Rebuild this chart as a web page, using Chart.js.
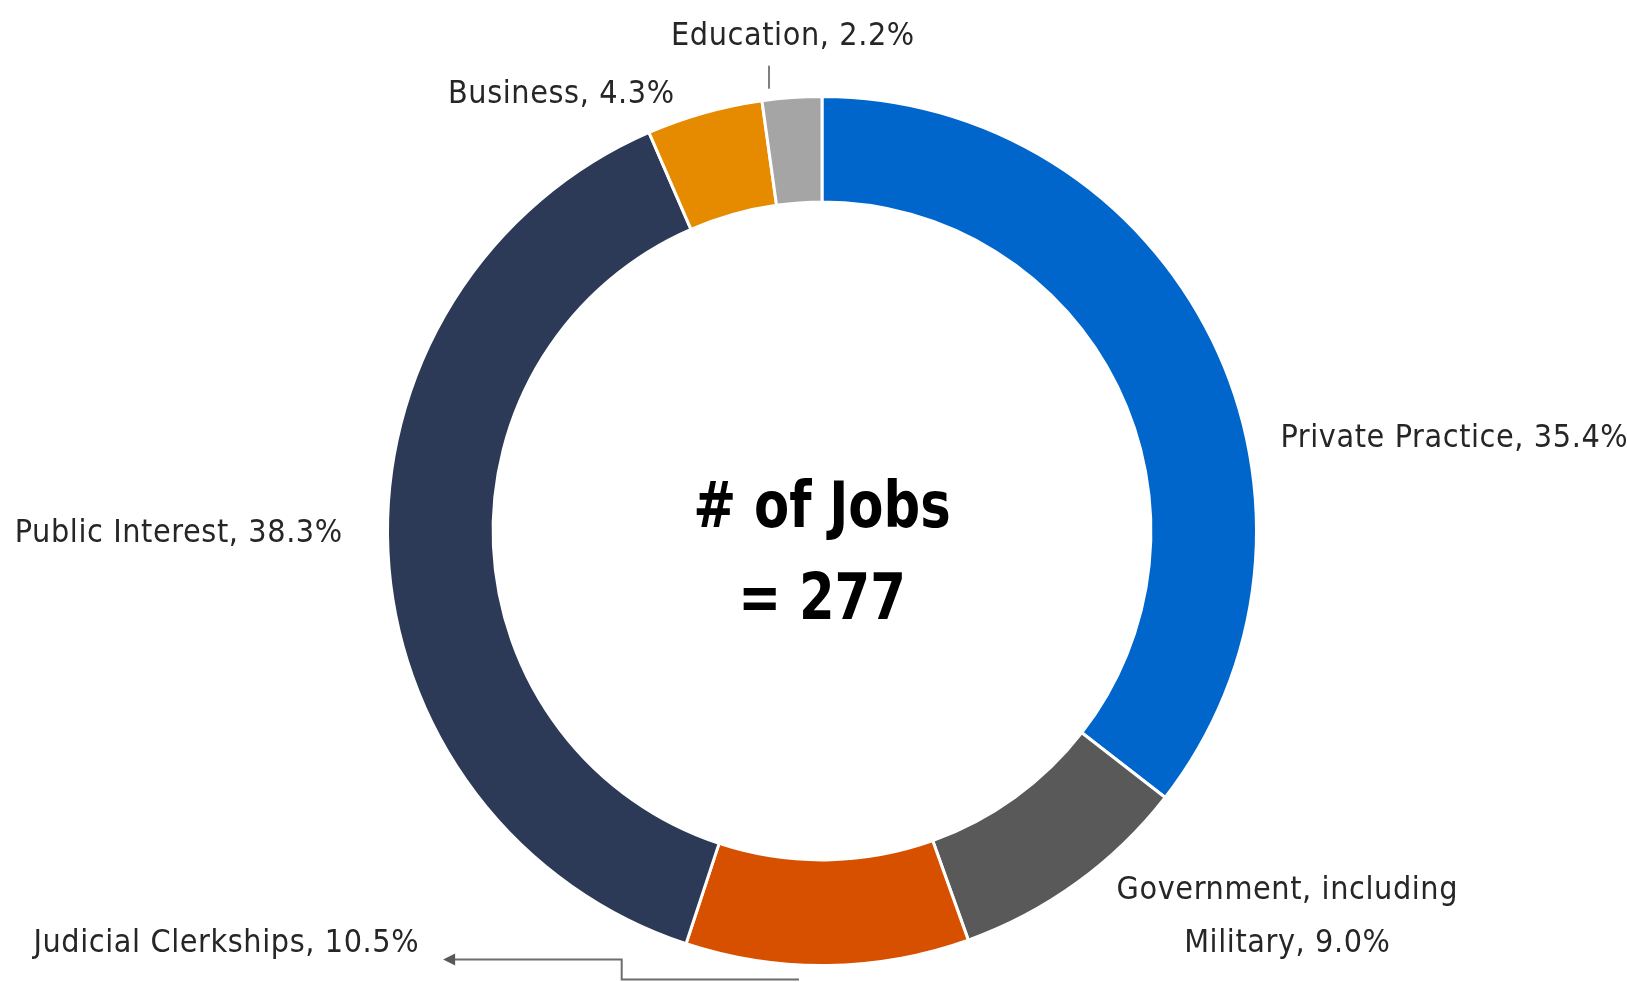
<!DOCTYPE html>
<html>
<head>
<meta charset="utf-8">
<script src="https://cdn.jsdelivr.net/npm/chart.js@4.4.1/dist/chart.umd.min.js"></script>
<style>
  html, body { margin: 0; padding: 0; background: #ffffff; }
  #wrap { width: 1627px; height: 982px; position: relative; }
</style>
</head>
<body>
<div id="wrap"><canvas id="c" width="1627" height="982"></canvas></div>
<script>
const categories = ["Private Practice", "Government, including Military", "Judicial Clerkships", "Public Interest", "Business", "Education"];
const shares = [35.4, 9.0, 10.5, 38.3, 4.3, 2.2];
const colors = ["#0066CC", "#595959", "#D75000", "#2C3957", "#E68A00", "#A5A5A5"];
const centerLines = ["# of Jobs", "= 277"];

const LABEL_FONT = "'DejaVu Sans Condensed', 'DejaVu Sans', sans-serif";

const labelLayout = [
  { lines: ["Private Practice, 35.4%"], fx: 1.055, fy: [-0.212], align: "left" },
  { lines: ["Government, including", "Military, 9.0%"], fx: 1.071, fy: [0.827, 0.949], align: "center" },
  { lines: ["Judicial Clerkships, 10.5%"], fx: -0.927, fy: [0.949], align: "right" },
  { lines: ["Public Interest, 38.3%"], fx: -1.103, fy: [0.006], align: "right" },
  { lines: ["Business, 4.3%"], fx: -0.339, fy: [-1.005], align: "right" },
  { lines: ["Education, 2.2%"], fx: -0.067, fy: [-1.138], align: "center" }
];

const labelsPlugin = {
  id: 'labelsPlugin',
  afterDraw(chart) {
    const ctx = chart.ctx;
    const arc = chart.getDatasetMeta(0).data[0];
    const cx = arc.x, cy = arc.y, R = arc.outerRadius;
    ctx.save();
    ctx.fillStyle = "#262626";
    ctx.font = "32px " + LABEL_FONT;
    try { ctx.fontStretch = "condensed"; } catch (e) {}
    try { ctx.letterSpacing = "0.6px"; } catch (e) {}
    ctx.textBaseline = "middle";
    labelLayout.forEach(l => {
      ctx.textAlign = l.align;
      l.lines.forEach((t, i) => {
        ctx.fillText(t, cx + l.fx * R, cy + l.fy[i] * R);
      });
    });
    try { ctx.letterSpacing = "0px"; } catch (e) {}
    // education tick
    ctx.strokeStyle = "#7f7f7f";
    ctx.lineWidth = 2;
    ctx.beginPath();
    ctx.moveTo(cx - 0.122 * R, cy - 1.071 * R);
    ctx.lineTo(cx - 0.122 * R, cy - 1.018 * R);
    ctx.stroke();
    // judicial leader line with arrow
    ctx.strokeStyle = "#6d6d6d";
    ctx.lineWidth = 2;
    ctx.beginPath();
    ctx.moveTo(cx - 0.053 * R, cy + 1.032 * R);
    ctx.lineTo(cx - 0.461 * R, cy + 1.032 * R);
    ctx.lineTo(cx - 0.461 * R, cy + 0.986 * R);
    ctx.lineTo(cx - 0.850 * R, cy + 0.986 * R);
    ctx.stroke();
    ctx.fillStyle = "#595959";
    ctx.beginPath();
    const tipX = cx - 0.872 * R, tipY = cy + 0.986 * R;
    ctx.moveTo(tipX, tipY);
    ctx.lineTo(tipX + 12, tipY - 6);
    ctx.lineTo(tipX + 12, tipY + 6);
    ctx.closePath();
    ctx.fill();
    // center text (horizontally compressed to mimic a condensed face)
    ctx.fillStyle = "#000000";
    ctx.textAlign = "center";
    ctx.font = "bold 64px " + LABEL_FONT;
    const sx = 0.89;
    ctx.save();
    ctx.translate(cx, cy);
    ctx.scale(sx, 1);
    ctx.fillText(centerLines[0], 0, -0.048 * R);
    ctx.fillText(centerLines[1], 0, 0.165 * R);
    ctx.restore();
    ctx.restore();
  }
};

new Chart(document.getElementById('c'), {
  type: 'doughnut',
  data: {
    labels: categories,
    datasets: [{
      data: shares,
      backgroundColor: colors,
      borderColor: "#ffffff",
      borderWidth: 3,
      hoverOffset: 0
    }]
  },
  options: {
    responsive: false,
    animation: false,
    cutout: "75.7%",
    rotation: 0,
    layout: { padding: { top: 95, bottom: 15, left: 386, right: 369 } },
    plugins: { legend: { display: false }, tooltip: { enabled: false } }
  },
  plugins: [labelsPlugin]
});
</script>
</body>
</html>
